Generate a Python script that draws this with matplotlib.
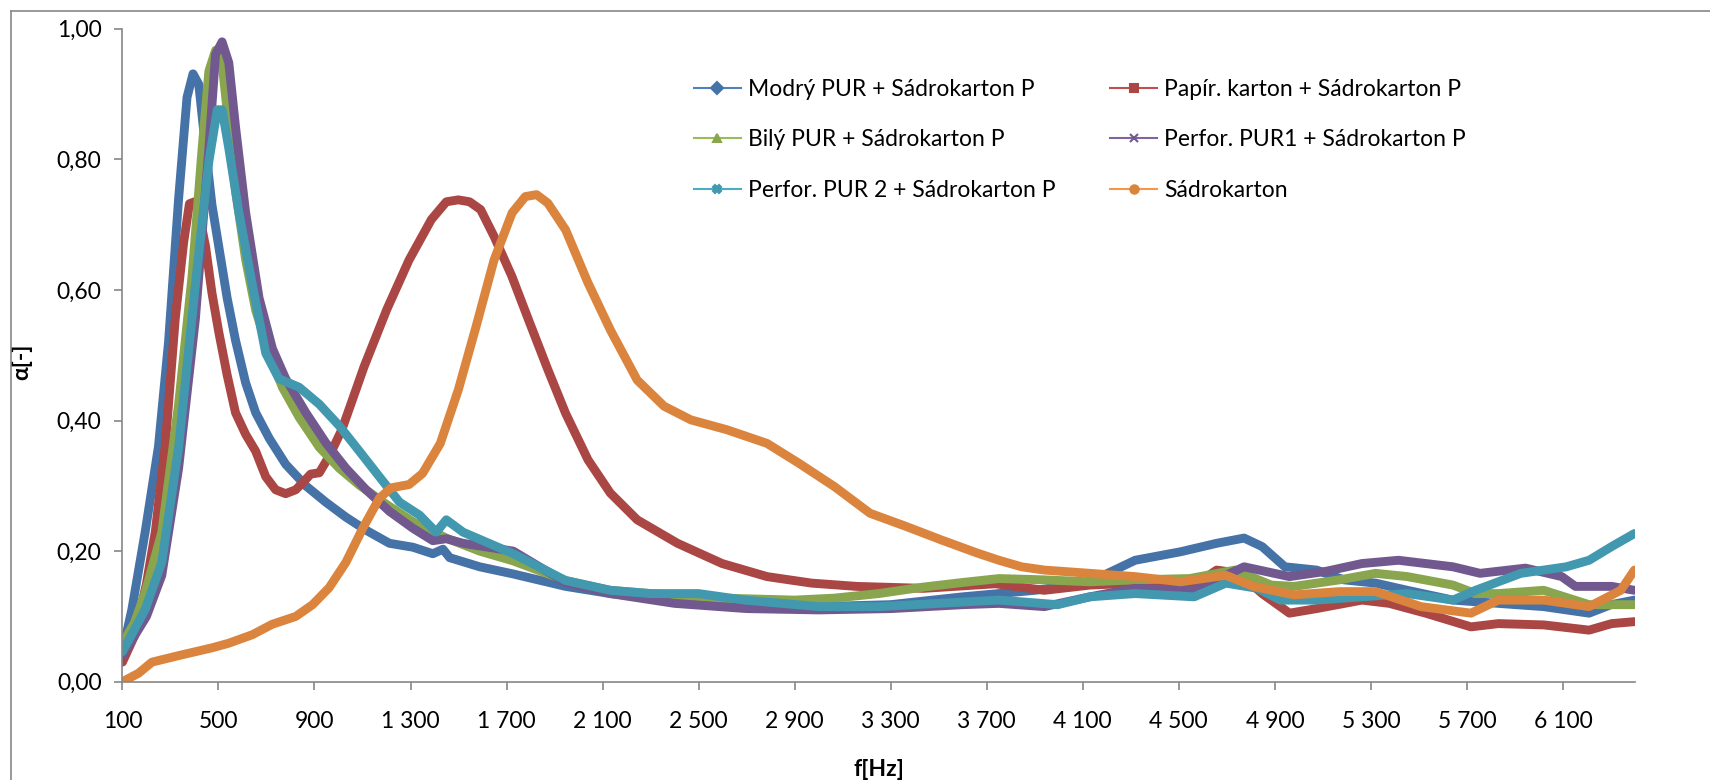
import matplotlib
matplotlib.use('Agg')
import matplotlib.pyplot as plt
from matplotlib.lines import Line2D
from matplotlib.ticker import FuncFormatter

plt.rcParams['font.family'] = ['Lato', 'DejaVu Sans']

# frequency [Hz] / absorption coefficient
blue_f = [100, 139, 195, 250, 292, 334, 369, 394, 418, 446, 473, 501, 536, 571, 613, 655, 711, 780, 864, 947,
          1031, 1115, 1212, 1310, 1393, 1435, 1463, 1588, 1728, 1946, 2132, 2412, 2692, 3000, 3300, 3600, 3900, 4100,
          4204, 4318, 4507, 4658, 4772, 4847, 4942, 5074, 5188, 5320, 5452, 5642, 5831, 6020, 6209, 6300, 6398]
blue_a = [0.046, 0.11, 0.23, 0.36, 0.52, 0.74, 0.895, 0.931, 0.915, 0.817, 0.73, 0.667, 0.588, 0.523, 0.458, 0.412,
          0.373, 0.333, 0.30, 0.275, 0.252, 0.232, 0.212, 0.206, 0.196, 0.203, 0.19, 0.176, 0.165, 0.146, 0.135,
          0.125, 0.118, 0.115, 0.118, 0.13, 0.14, 0.15, 0.166, 0.186, 0.199, 0.212, 0.220, 0.207, 0.176, 0.171,
          0.156, 0.151, 0.140, 0.125, 0.12, 0.115, 0.105, 0.118, 0.125]

red_f = [100, 150, 200, 237, 278, 320, 355, 379, 400, 418, 446, 473, 501, 536, 571, 613, 655, 697, 738, 780,
         822, 864, 884, 920, 962, 1014, 1107, 1201, 1294, 1387, 1449, 1499, 1546, 1592, 1648, 1722, 1797, 1872,
         1946, 2039, 2132, 2244, 2412, 2598, 2785, 2971, 3158, 3437, 3736, 3940, 4129, 4318, 4564, 4658, 4753,
         4847, 4961, 5074, 5263, 5377, 5528, 5717, 5831, 6020, 6209, 6303, 6398]
red_a = [0.03, 0.07, 0.15, 0.23, 0.36, 0.556, 0.673, 0.732, 0.735, 0.719, 0.667, 0.595, 0.536, 0.47, 0.412, 0.379,
         0.353, 0.314, 0.294, 0.288, 0.294, 0.31, 0.318, 0.32, 0.346, 0.386, 0.483, 0.570, 0.646, 0.708, 0.735,
         0.738, 0.735, 0.723, 0.682, 0.621, 0.549, 0.478, 0.411, 0.340, 0.289, 0.248, 0.212, 0.181, 0.161, 0.151,
         0.146, 0.143, 0.150, 0.140, 0.148, 0.151, 0.148, 0.171, 0.166, 0.135, 0.105, 0.112, 0.125, 0.120, 0.105,
         0.084, 0.089, 0.087, 0.079, 0.089, 0.092]

green_f = [100, 150, 195, 264, 334, 390, 432, 460, 488, 515, 543, 571, 613, 655, 711, 766, 836, 920, 1003, 1087,
           1198, 1310, 1449, 1588, 1728, 1946, 2132, 2300, 2599, 2900, 3065, 3250, 3437, 3600, 3751, 3940, 4129,
           4318, 4545, 4734, 4885, 4980, 5169, 5320, 5452, 5642, 5736, 5831, 6020, 6209, 6398]
green_a = [0.059, 0.09, 0.137, 0.229, 0.425, 0.621, 0.817, 0.935, 0.967, 0.948, 0.85, 0.752, 0.647, 0.569, 0.503,
           0.451, 0.405, 0.359, 0.327, 0.301, 0.272, 0.245, 0.22, 0.2, 0.185, 0.155, 0.14, 0.135, 0.128, 0.125,
           0.128, 0.135, 0.145, 0.152, 0.158, 0.156, 0.153, 0.156, 0.158, 0.171, 0.148, 0.146, 0.156, 0.166, 0.161,
           0.148, 0.135, 0.135, 0.140, 0.118, 0.118]

purple_f = [100, 150, 200, 264, 334, 404, 460, 488, 515, 543, 571, 613, 669, 725, 780, 864, 947, 1031, 1115, 1212,
            1310, 1393, 1449, 1519, 1728, 1946, 2132, 2400, 2700, 3000, 3300, 3600, 3751, 3940, 4129, 4318, 4564,
            4772, 4961, 5112, 5263, 5415, 5642, 5755, 5944, 6095, 6152, 6303, 6398]
purple_a = [0.04, 0.07, 0.1, 0.163, 0.327, 0.556, 0.817, 0.961, 0.98, 0.948, 0.85, 0.719, 0.588, 0.51, 0.464,
            0.412, 0.366, 0.327, 0.294, 0.261, 0.235, 0.216, 0.219, 0.212, 0.2, 0.152, 0.135, 0.12, 0.112, 0.11,
            0.112, 0.118, 0.120, 0.115, 0.13, 0.143, 0.140, 0.176, 0.161, 0.169, 0.181, 0.186, 0.176, 0.166, 0.174,
            0.161, 0.146, 0.146, 0.140]

cyan_f = [100, 150, 195, 264, 334, 404, 460, 495, 515, 543, 585, 641, 697, 752, 836, 920, 1003, 1087, 1170, 1254,
          1338, 1407, 1449, 1519, 1728, 1946, 2132, 2300, 2500, 2692, 3000, 3251, 3500, 3751, 3996, 4129, 4318,
          4564, 4696, 4828, 4923, 5074, 5263, 5452, 5642, 5736, 5925, 6114, 6209, 6303, 6398]
cyan_a = [0.046, 0.08, 0.111, 0.183, 0.359, 0.608, 0.797, 0.876, 0.876, 0.817, 0.719, 0.608, 0.503, 0.464, 0.451,
          0.425, 0.392, 0.353, 0.314, 0.275, 0.255, 0.229, 0.248, 0.229, 0.196, 0.155, 0.14, 0.135, 0.135, 0.125,
          0.115, 0.115, 0.12, 0.125, 0.118, 0.130, 0.135, 0.130, 0.151, 0.143, 0.125, 0.125, 0.130, 0.135, 0.125,
          0.140, 0.166, 0.176, 0.186, 0.207, 0.227]

orange_f = [100, 167, 223, 334, 474, 543, 641, 724, 822, 892, 961, 1031, 1101, 1170, 1220, 1294, 1350, 1424, 1499,
            1573, 1648, 1723, 1778, 1825, 1872, 1946, 2039, 2132, 2244, 2356, 2468, 2617, 2785, 2916, 3065, 3214,
            3363, 3512, 3661, 3751, 3845, 3940, 4129, 4318, 4507, 4696, 4810, 4980, 5169, 5320, 5509, 5717, 5831,
            6020, 6209, 6341, 6398]
orange_a = [0.0, 0.013, 0.03, 0.04, 0.052, 0.059, 0.072, 0.088, 0.10, 0.118, 0.144, 0.183, 0.235, 0.281, 0.297,
            0.302, 0.319, 0.365, 0.447, 0.544, 0.646, 0.718, 0.743, 0.746, 0.733, 0.692, 0.611, 0.539, 0.462, 0.422,
            0.401, 0.386, 0.365, 0.335, 0.299, 0.258, 0.238, 0.217, 0.197, 0.186, 0.176, 0.171, 0.166, 0.161, 0.153,
            0.163, 0.146, 0.133, 0.138, 0.138, 0.115, 0.105, 0.125, 0.125, 0.115, 0.140, 0.171]

labels = ['Modrý PUR + Sádrokarton P', 'Papír. karton + Sádrokarton P', 'Bilý PUR + Sádrokarton P',
          'Perfor. PUR1 + Sádrokarton P', 'Perfor. PUR 2 + Sádrokarton P', 'Sádrokarton']
x_ticks = list(range(100, 6101, 400))
y_ticks = [0.0, 0.2, 0.4, 0.6, 0.8, 1.0]

series = [(blue_f, blue_a), (red_f, red_a), (green_f, green_a),
          (purple_f, purple_a), (cyan_f, cyan_a), (orange_f, orange_a)]
dark = ['#4572A7', '#AA4643', '#89A54E', '#71588F', '#4198AF', '#DB843D']
light = ['#4F81BD', '#C0504D', '#9BBB59', '#8064A2', '#4BACC6', '#F79646']
markers = ['D', 's', '^', 'x', 'X', 'o']

fs = 16.5
fig = plt.figure(figsize=(17.1, 7.8), dpi=100)
ax = fig.add_axes([0.0716, 0.1260, 0.9561 - 0.0716, 0.9631 - 0.1260])

for (f, a), c in zip(series, dark):
    ax.plot(f, a, color=c, lw=6.4, solid_capstyle='round', solid_joinstyle='round')

ax.set_xlim(100, 6400)
ax.set_ylim(0, 1)
ax.set_xticks(x_ticks)
ax.set_yticks(y_ticks)
ax.xaxis.set_major_formatter(FuncFormatter(lambda v, p: f'{int(v):,}'.replace(',', ' ')))
ax.yaxis.set_major_formatter(FuncFormatter(lambda v, p: f'{v:.2f}'.replace('.', ',')))

grey = '#868686'
for s in ['top', 'right']:
    ax.spines[s].set_visible(False)
for s in ['left', 'bottom']:
    ax.spines[s].set_color(grey)
    ax.spines[s].set_linewidth(1.2)
ax.tick_params(axis='both', direction='out', length=6, width=1.2, color=grey, labelsize=fs)
ax.tick_params(axis='x', pad=15)
ax.tick_params(axis='y', pad=9)

ax.set_xlabel('f[Hz]', fontsize=fs, fontweight='bold')
ax.xaxis.set_label_coords(0.5, -0.118)
ax.set_ylabel('α[-]', fontsize=fs, fontweight='bold')
ax.yaxis.set_label_coords(-0.0595, 0.49)

handles = [Line2D([], [], color=lc, lw=1.5, marker=m, markersize=6, markerfacecolor=dc,
                  markeredgecolor=dc, markeredgewidth=1.5)
           for lc, dc, m in zip(light, dark, markers)]
order = [0, 2, 4, 1, 3, 5]
leg = ax.legend([handles[i] for i in order], [labels[i] for i in order], ncol=2,
                loc='upper left', bbox_to_anchor=(694 / 1710, 1 - 79 / 780),
                bbox_transform=fig.transFigure, frameon=False, fontsize=fs,
                handlelength=2.05, handletextpad=0.3, columnspacing=2.4, labelspacing=1.28,
                borderaxespad=0, borderpad=0)

# outer chart border (left and top edges visible)
fig.add_artist(Line2D([10.7 / 1710, 10.7 / 1710], [0, 1 - 11 / 780], color='#878787', lw=1.2,
                      transform=fig.transFigure))
fig.add_artist(Line2D([10.7 / 1710, 1], [1 - 11 / 780, 1 - 11 / 780], color='#878787', lw=1.2,
                      transform=fig.transFigure))

fig.savefig('out.png', dpi=100)
